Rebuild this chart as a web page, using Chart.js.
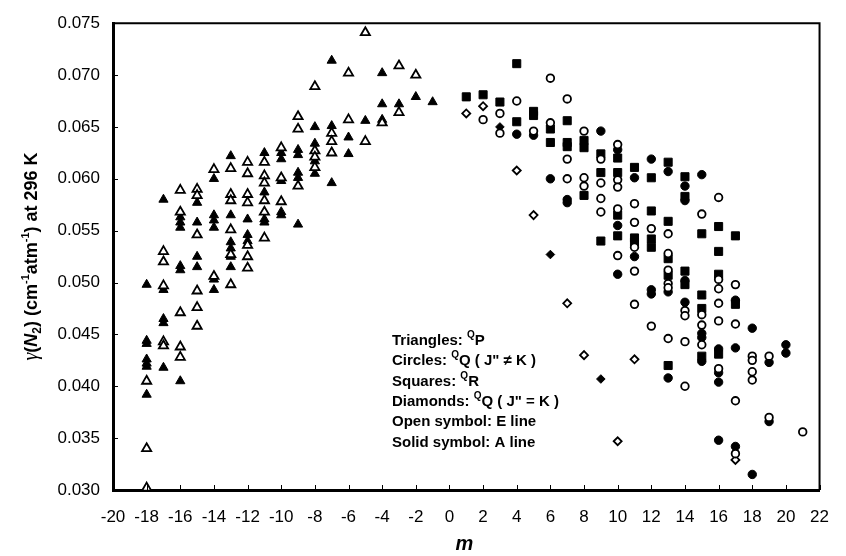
<!DOCTYPE html>
<html><head><meta charset="utf-8">
<style>html,body{margin:0;padding:0;background:#fff;}#wrap{width:846px;height:556px;}</style>
<script src="https://cdn.jsdelivr.net/npm/chart.js@4.4.1/dist/chart.umd.min.js"></script>
</head><body><div id="wrap"><canvas id="c" width="846" height="556"></canvas></div>
<script>
// ---- tick labels ----
const xTickValues = [-20,-18,-16,-14,-12,-10,-8,-6,-4,-2,0,2,4,6,8,10,12,14,16,18,20,22];
const yTickLabels = ['0.030','0.035','0.040','0.045','0.050','0.055','0.060','0.065','0.070','0.075'];

// ---- data: [m, gamma] ----
// Triangles: QP  (open = E line)
const triangleOpen = [
 [-18,0.0405],[-18,0.0340],[-18,0.0302],
 [-17,0.0530],[-17,0.0520],[-17,0.0497],[-17,0.0443],[-17,0.0439],
 [-16,0.0589],[-16,0.0568],[-16,0.0471],[-16,0.0438],[-16,0.0428],
 [-15,0.0590],[-15,0.0584],[-15,0.0546],[-15,0.0492],[-15,0.0476],[-15,0.0458],
 [-14,0.0609],[-14,0.0506],
 [-13,0.0610],[-13,0.0585],[-13,0.0579],[-13,0.0551],[-13,0.0527],[-13,0.0498],
 [-12,0.0616],[-12,0.0605],[-12,0.0585],[-12,0.0577],[-12,0.0536],[-12,0.0525],[-12,0.0514],
 [-11,0.0616],[-11,0.0603],[-11,0.0596],[-11,0.0579],[-11,0.0568],[-11,0.0543],
 [-10,0.0630],[-10,0.0601],[-10,0.0578],
 [-9,0.0660],[-9,0.0648],[-9,0.0593],
 [-8,0.0689],[-8,0.0627],[-8,0.0621],[-8,0.0611],
 [-7,0.0644],[-7,0.0636],[-7,0.0625],
 [-6,0.0702],[-6,0.0657],
 [-5,0.0741],[-5,0.0636],
 [-4,0.0654],
 [-3,0.0709],[-3,0.0664],
 [-2,0.0700]
];
// Triangles: QP  (solid = A line)
const triangleSolid = [
 [-18,0.0498],[-18,0.0444],[-18,0.0441],[-18,0.0426],[-18,0.0422],[-18,0.0419],[-18,0.0392],
 [-17,0.0580],[-17,0.0493],[-17,0.0465],[-17,0.0461],[-17,0.0418],
 [-16,0.0563],[-16,0.0558],[-16,0.0553],[-16,0.0516],[-16,0.0512],[-16,0.0405],
 [-15,0.0577],[-15,0.0558],[-15,0.0525],[-15,0.0515],
 [-14,0.0600],[-14,0.0565],[-14,0.0560],[-14,0.0553],[-14,0.0503],[-14,0.0493],
 [-13,0.0622],[-13,0.0565],[-13,0.0539],[-13,0.0533],[-13,0.0525],[-13,0.0515],
 [-12,0.0561],[-12,0.0546],[-12,0.0540],
 [-11,0.0625],[-11,0.0587],[-11,0.0561],[-11,0.0558],
 [-10,0.0625],[-10,0.0619],[-10,0.0598],[-10,0.0568],[-10,0.0565],
 [-9,0.0628],[-9,0.0623],[-9,0.0606],[-9,0.0601],[-9,0.0556],
 [-8,0.0650],[-8,0.0634],[-8,0.0617],[-8,0.0605],
 [-7,0.0714],[-7,0.0651],[-7,0.0625],[-7,0.0596],
 [-6,0.0640],[-6,0.0624],
 [-5,0.0656],
 [-4,0.0702],[-4,0.0672],[-4,0.0657],
 [-3,0.0672],
 [-2,0.0679],
 [-1,0.0674]
];
// Circles: QQ (J" != K)
const circleOpen = [
 [2,0.0657],
 [3,0.0663],[3,0.0644],
 [4,0.0675],
 [5,0.0646],
 [6,0.0697],[6,0.0654],
 [7,0.0677],[7,0.0619],[7,0.0600],
 [8,0.0646],[8,0.0601],[8,0.0593],
 [9,0.0619],[9,0.0596],[9,0.0581],[9,0.0568],
 [10,0.0633],[10,0.0599],[10,0.0592],[10,0.0571],[10,0.0526],
 [11,0.0576],[11,0.0558],[11,0.0534],[11,0.0511],[11,0.0479],
 [12,0.0552],[12,0.0458],
 [13,0.0547],[13,0.0528],[13,0.0512],[13,0.0499],[13,0.0495],[13,0.0446],
 [14,0.0473],[14,0.0468],[14,0.0443],[14,0.0400],
 [15,0.0566],[15,0.0469],[15,0.0459],[15,0.0440],
 [16,0.0582],[16,0.0503],[16,0.0494],[16,0.0480],[16,0.0463],[16,0.0417],
 [17,0.0498],[17,0.0460],[17,0.0386],[17,0.0335],
 [18,0.0429],[18,0.0425],[18,0.0414],[18,0.0406],
 [19,0.0429],[19,0.0370],
 [21,0.0356]
];
const circleSolid = [
 [4,0.0643],
 [5,0.0642],
 [6,0.0600],
 [7,0.0580],[7,0.0577],
 [9,0.0646],
 [10,0.0628],[10,0.0555],[10,0.0508],
 [11,0.0601],[11,0.0525],
 [12,0.0619],[12,0.0493],[12,0.0489],
 [13,0.0607],[13,0.0491],[13,0.0408],
 [14,0.0593],[14,0.0579],[14,0.0502],[14,0.0481],
 [15,0.0604],[15,0.0451],[15,0.0447],[15,0.0424],
 [16,0.0436],[16,0.0413],[16,0.0404],[16,0.0348],
 [17,0.0483],[17,0.0437],[17,0.0342],
 [18,0.0456],[18,0.0315],
 [19,0.0423],[19,0.0366],
 [20,0.0440],[20,0.0432]
];
// Squares: QR
const squareSolid = [
 [1,0.0679],
 [2,0.0681],
 [3,0.0674],
 [4,0.0711],[4,0.0655],
 [5,0.0665],[5,0.0661],
 [6,0.0648],[6,0.0635],
 [7,0.0656],[7,0.0635],[7,0.0631],
 [8,0.0637],[8,0.0630],[8,0.0584],
 [9,0.0624],[9,0.0606],[9,0.0540],
 [10,0.0620],[10,0.0606],[10,0.0565],[10,0.0545],
 [11,0.0611],[11,0.0543],[11,0.0539],
 [12,0.0601],[12,0.0569],[12,0.0542],[12,0.0534],
 [13,0.0616],[13,0.0559],[13,0.0523],[13,0.0507],[13,0.0420],
 [14,0.0602],[14,0.0583],[14,0.0511],[14,0.0498],
 [15,0.0547],[15,0.0488],[15,0.0475],[15,0.0429],
 [16,0.0554],[16,0.0530],[16,0.0508],[16,0.0431],
 [17,0.0545],[17,0.0479]
];
// Diamonds: QQ (J" = K)
const diamondOpen = [
 [1,0.0663],[2,0.0670],[4,0.0608],[5,0.0565],[7,0.0480],[8,0.0430],[10,0.0347],[11,0.0426],[17,0.0329]
];
const diamondSolid = [
 [3,0.0650],[6,0.0527],[9,0.0407]
];

const toPts = arr => arr.map(p => ({x: p[0], y: p[1]}));
const FONT = '"Liberation Sans", Arial, sans-serif';

function ds(arr, style, r, open, order) {
  return {
    data: toPts(arr), pointStyle: style, pointRadius: r, pointHoverRadius: r,
    backgroundColor: open ? '#ffffff' : '#000000', borderColor: '#000000',
    borderWidth: open ? 1.8 : 1, order: order, showLine: false
  };
}

const framePlugin = {
  id: 'frame',
  beforeDraw(chart) {
    const ctx = chart.ctx;
    ctx.save(); ctx.fillStyle = '#fff'; ctx.fillRect(0, 0, chart.width, chart.height); ctx.restore();
  },
  afterDraw(chart) {
    const ctx = chart.ctx, a = chart.chartArea;
    const xs = chart.scales.x, ys = chart.scales.y;
    ctx.save();
    ctx.strokeStyle = '#000';
    // top & right frame
    ctx.lineWidth = 2;
    ctx.beginPath();
    ctx.moveTo(a.left, a.top); ctx.lineTo(a.right, a.top); ctx.lineTo(a.right, a.bottom);
    ctx.stroke();
    // inward ticks
    ctx.lineWidth = 1;
    ctx.beginPath();
    xTickValues.forEach(v => {
      const px = Math.round(xs.getPixelForValue(v)) + 0.5;
      ctx.moveTo(px, a.bottom); ctx.lineTo(px, a.bottom - 5);
    });
    yTickLabels.forEach(l => {
      const py = Math.round(ys.getPixelForValue(parseFloat(l))) + 0.5;
      ctx.moveTo(a.left, py); ctx.lineTo(a.left + 5, py);
    });
    ctx.stroke();

    // y axis title (rotated, with sub/superscripts)
    const runs = [
      {t: 'γ', f: 'italic 20px "Liberation Serif", serif', dy: 0},
      {t: '(', f: 'bold 18px ' + FONT, dy: 0},
      {t: 'N', f: 'italic bold 18px ' + FONT, dy: 0},
      {t: '2', f: 'bold 12px ' + FONT, dy: 4},
      {t: ') (cm', f: 'bold 18px ' + FONT, dy: 0},
      {t: '-1', f: 'bold 11px ' + FONT, dy: -8},
      {t: 'atm', f: 'bold 18px ' + FONT, dy: 0},
      {t: '-1', f: 'bold 11px ' + FONT, dy: -8},
      {t: ') at 296 K', f: 'bold 18px ' + FONT, dy: 0}
    ];
    ctx.fillStyle = '#000';
    ctx.textBaseline = 'alphabetic';
    ctx.textAlign = 'left';
    let W = 0;
    runs.forEach(r => { ctx.font = r.f; r.w = ctx.measureText(r.t).width; W += r.w; });
    ctx.save();
    ctx.translate(37, 256.5);
    ctx.rotate(-Math.PI / 2);
    let cx = -W / 2;
    runs.forEach(r => { ctx.font = r.f; ctx.fillText(r.t, cx, r.dy); cx += r.w; });
    ctx.restore();

    // x axis title
    ctx.font = 'italic bold 20px ' + FONT;
    ctx.textAlign = 'center';
    ctx.textBaseline = 'middle';
    ctx.fillText('m', (a.left + a.right) / 2 - 2, 544);

    // annotation text block
    const lines = [
      ['Triangles: ', 'Q', 'P'],
      ['Circles: ', 'Q', 'Q ( J" \u2260 K )'],
      ['Squares: ', 'Q', 'R'],
      ['Diamonds: ', 'Q', 'Q ( J" = K )'],
      ['Open symbol: E line', '', ''],
      ['Solid symbol: A line', '', '']
    ];
    ctx.textAlign = 'left';
    ctx.textBaseline = 'alphabetic';
    lines.forEach((ln, i) => {
      const by = 345 + i * 20.3;
      let x = 392;
      ctx.font = 'bold 15px ' + FONT;
      ctx.fillText(ln[0], x, by); x += ctx.measureText(ln[0]).width;
      if (ln[1]) {
        ctx.font = 'bold 10px ' + FONT;
        ctx.fillText(ln[1], x, by - 7); x += ctx.measureText(ln[1]).width;
        ctx.font = 'bold 15px ' + FONT;
        ctx.fillText(ln[2], x, by);
      }
    });
    ctx.restore();
  }
};

new Chart(document.getElementById('c'), {
  type: 'scatter',
  data: {
    datasets: [
      ds(triangleOpen, 'triangle', 5.3, true, 1),
      ds(triangleSolid, 'triangle', 5.3, false, 2),
      ds(circleOpen, 'circle', 3.8, true, 3),
      ds(circleSolid, 'circle', 4.2, false, 4),
      ds(squareSolid, 'rect', 5.7, false, 5),
      ds(diamondOpen, 'rectRot', 4.0, true, 6),
      ds(diamondSolid, 'rectRot', 4.3, false, 7)
    ]
  },
  options: {
    responsive: false,
    animation: false,
    devicePixelRatio: 1,
    layout: {padding: {top: 19, right: 12, left: 0, bottom: 0}},
    plugins: {legend: {display: false}, tooltip: {enabled: false}},
    scales: {
      x: {
        type: 'linear', min: -20, max: 22,
        afterFit: s => { s.height = 66; },
        afterBuildTicks: s => { s.ticks = xTickValues.map(v => ({value: v})); },
        ticks: {
          font: {family: FONT, size: 17}, color: '#000', padding: 17,
          maxRotation: 0, autoSkip: false, callback: v => String(v)
        },
        grid: {display: true, drawOnChartArea: false, drawTicks: false},
        border: {display: true, color: '#000', width: 3}
      },
      y: {
        type: 'linear', min: 0.030, max: 0.075,
        afterFit: s => { s.width = 113; },
        afterBuildTicks: s => { s.ticks = yTickLabels.map(l => ({value: parseFloat(l)})); },
        ticks: {
          font: {family: FONT, size: 17}, color: '#000', padding: 13,
          autoSkip: false,
          callback: (v) => { const l = yTickLabels.find(t => Math.abs(parseFloat(t) - v) < 1e-9); return l || ''; }
        },
        grid: {display: true, drawOnChartArea: false, drawTicks: false},
        border: {display: true, color: '#000', width: 3}
      }
    }
  },
  plugins: [framePlugin]
});
</script></body></html>
